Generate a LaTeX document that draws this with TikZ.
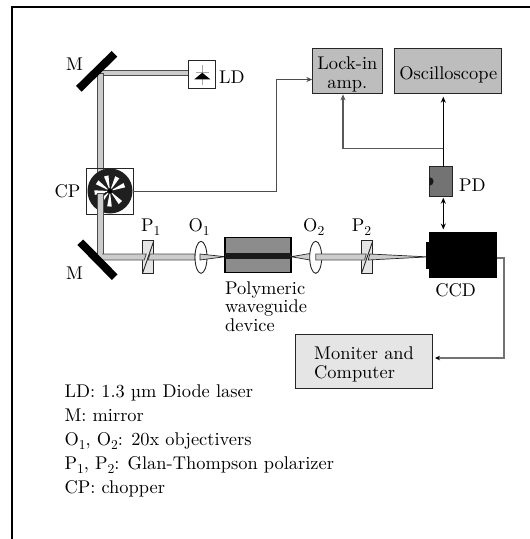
\documentclass[tikz,border=0pt]{standalone}
\usepackage{fontspec}
\setmainfont{lmroman10-regular}[Extension=.otf]
\usetikzlibrary{arrows.meta,shapes.geometric}
\definecolor{beamg}{gray}{0.8}
\definecolor{boxg}{gray}{0.74}
\definecolor{compg}{gray}{0.9}
\definecolor{chopg}{gray}{0.12}
\newcommand{\subd}[1]{\raisebox{-4.2pt}{\fontsize{13.6}{14}\selectfont #1}}
\tikzset{
  x=1pt,y=-1pt,
  txt/.style={inner sep=0pt,font=\fontsize{18.4}{18.8}\selectfont,text=black,align=left},
  ctxt/.style={txt,align=center},
  legend/.style={inner sep=0pt,anchor=base west,font=\fontsize{18.4}{20}\selectfont,text=black},
  beam/.style={draw=black!70,line width=0.9pt,fill=beamg},
  taper/.style={draw=black!85,line width=0.7pt,fill=beamg},
  instr/.style={draw=black!85,line width=1pt,fill=boxg,inner sep=0pt,outer sep=0pt},
  optic/.style={draw=black!85,line width=0.9pt,inner sep=0pt,outer sep=0pt},
  lens/.style={optic,fill=white,ellipse,minimum width=12pt,minimum height=32pt},
  polar/.style={optic,fill=compg,minimum width=11.3pt,minimum height=32.6pt},
  tipped/.style={-{Stealth[length=6pt,width=5pt]}},
  conn/.style={draw=black!65,line width=1.2pt,tipped},
  connk/.style={draw=black,line width=1.2pt,tipped},
  darrow/.style={draw=black,line width=1pt,{Stealth[length=6pt,width=5pt]}-{Stealth[length=6pt,width=5pt]}},
  mirrorbar/.style={line width=8pt,draw=black},
}
\begin{document}
\begin{tikzpicture}
\useasboundingbox (0,0) rectangle (530,539);
\draw[line width=2pt] (12,539) -- (12,6.7) -- (530,6.7);
% upper beams
\path[beam] (100.5,70.7) rectangle (189,75.7);
\path[beam] (97.7,73) rectangle (103.3,180);
% mirrors
\coordinate (m1a) at (78.8,88.8); \coordinate (m1b) at (114.5,53.8);
\coordinate (m2a) at (80.3,242.2); \coordinate (m2b) at (114.7,277.2);
\draw[mirrorbar] (m1a) -- (m1b);
% LD
\node[optic,fill=white,minimum width=26.7pt,minimum height=28pt] (ld) at (201.7,74.7) {};
\draw[black!35,line width=0.7pt] (202.3,65) -- (202.3,85);
\draw[black!35,line width=0.7pt] (195.7,72.7) -- (209,72.7);
\fill[black] (202.3,72.7) -- (194.3,79.3) -- (210.3,79.3) -- cycle;
\node[txt,anchor=west] (ldl) at (219,77) {LD};
\node[txt,anchor=center] (m1l) at (74.5,64) {M};
\node[txt,anchor=center] (m2l) at (74.5,273) {M};
% chopper
\node[optic,minimum width=46.6pt,minimum height=46pt] (cp) at (110,191) {};
\fill[chopg] (110,191) circle (22.5);
\foreach \a in {22,62,104,146,186,228,268,312}{
  \fill[white,rotate around={\a:(110,191)}] (113,190.6) -- (125.5,188.7) -- (125.5,193.3) -- (113,191.4) -- cycle;
}
\fill[black] (110,191) circle (2);
\path[beam] (97.7,193) rectangle (103.3,258);
\fill[white] (97,191.5) rectangle (104.5,193.3);
\node[txt,anchor=center] (cpl) at (67.5,191.7) {CP};
% polarizers
\node[polar] (p1) at (148.2,257) {};
\node[polar] (p2) at (367.2,257) {};
% lower mirror and beam
\path[beam] (100.5,254) -- (146.2,254) -- (144.3,260) -- (100.5,260) -- cycle;
\path[beam] (150,254) -- (195,254) -- (195,260) -- (148,260) -- cycle;
\fill[beamg] (98.6,252) rectangle (102.4,259);
\draw[mirrorbar] (m2a) -- (m2b);
\draw[optic] (p1.south west) -- (p1.north east);
% O1, device, O2
\node[lens] (o1) at (201,257.3) {};
\path[taper] (200,254) -- (225,256.7) -- (200,260) -- cycle;
\node[optic,draw=black,line width=1.2pt,fill=black!45,minimum width=66pt,minimum height=35.4pt] (wg) at (258,255) {};
\fill[black!90] (wg.west |- 0,253.3) rectangle (wg.east |- 0,259.3);
\path[taper] (291,256.7) -- (313,253) -- (313,260.5) -- cycle;
\node[lens] (o2) at (315.7,257.3) {};
\path[beam] (315.7,254) -- (366.2,254) -- (364.6,260) -- (315.7,260) -- cycle;
\path[taper] (369.8,254) -- (428,256.9) -- (368.2,260) -- cycle;
\draw[optic] (p2.south west) -- (p2.north east);
% CCD
\fill[black] (426,242.3) rectangle (430,269.3);
\node[fill=black,inner sep=0pt,outer sep=0pt,minimum width=67.4pt,minimum height=45.4pt] (ccd) at (463,255) {};
\node[txt,anchor=center] (ccdl) at (455.7,290) {CCD};
% boxes
\node[instr,minimum width=70pt,minimum height=45pt] (lock) at (347.3,70.8) {};
\node[txt,ctxt,anchor=base] (lockt) at (347.3,69.3) {Lock-in};
\node[txt,ctxt,anchor=base] (lockt2) at (347.3,88.3) {amp.};
\node[instr,minimum width=106.7pt,minimum height=45pt] (osc) at (448.3,70.8) {};
\node[txt,anchor=base] (osct) at (448.3,79.3) {Oscilloscope};
\node[instr,fill=black!55,minimum width=23pt,minimum height=29.3pt] (pd) at (440.8,181.4) {};
\fill[black!90] (pd.west) ++(0,-4.3) arc[start angle=-90,end angle=90,radius=4.3] -- cycle;
\node[txt,anchor=west] (pdl) at (459,185) {PD};
\node[instr,fill=compg,minimum width=137pt,minimum height=53.6pt] (comp) at (363.5,361.5) {};
\node[txt,anchor=base west] (compt) at (314,359) {Moniter and};
\node[txt,anchor=base west] (compt2) at (314,378) {Computer};
% connectors
\coordinate (cpout) at (cp.east |- 0,191.5);
\coordinate (lockin) at (lock.west |- 0,79.5);
\coordinate (turn1) at (276.5,79.5);
\draw[conn,draw=black!70,line width=0.9pt] (cpout) -| (turn1) -- (lockin);
\coordinate (oscbot) at (443.3,96.7);
\coordinate (pdtop) at (443.3,166.7);
\draw[connk] (pdtop) -- (oscbot);
\coordinate (branch) at (443.3,148.7);
\coordinate (lockbot) at (343,94.3);
\draw[conn] (branch) -| (lockbot);
\coordinate (pdbot) at (443.3,197.7);
\coordinate (ccdtop) at (443.3,229.5);
\draw[darrow] (pdbot) -- (ccdtop);
\coordinate (ccdout) at (ccd.east |- 0,258);
\coordinate (turn2) at (504,358);
\coordinate (compin) at (435,358);
\draw[conn,line width=1.8pt,draw=black!55,-{Stealth[length=5pt,width=4.5pt,black]}] (ccdout) -| (turn2) -- (compin);
% labels
\node[txt,anchor=base west] (p1l) at (141,231.7) {P\subd{1}};
\node[txt,anchor=base west] (o1l) at (188.3,231.7) {O\subd{1}};
\node[txt,anchor=base west] (o2l) at (303,231.7) {O\subd{2}};
\node[txt,anchor=base west] (p2l) at (351.7,231.7) {P\subd{2}};
\node[txt,anchor=base west] (wgl1) at (225,294) {Polymeric};
\node[txt,anchor=base west] (wgl2) at (225,312.3) {waveguide};
\node[txt,anchor=base west] (wgl3) at (225,331.7) {device};
% legend
\node[legend] (l1) at (64.3,397.3) {LD: 1.3 \symbol{"B5}m Diode laser};
\node[legend] (l2) at (64.3,421.7) {M: mirror};
\node[legend] (l3) at (64.3,445) {O\subd{1}, O\subd{2}: 20x objectivers};
\node[legend] (l4) at (64.3,469.3) {P\subd{1}, P\subd{2}: Glan-Thompson polarizer};
\node[legend] (l5) at (64.3,493.3) {CP: chopper};
\end{tikzpicture}
\end{document}
